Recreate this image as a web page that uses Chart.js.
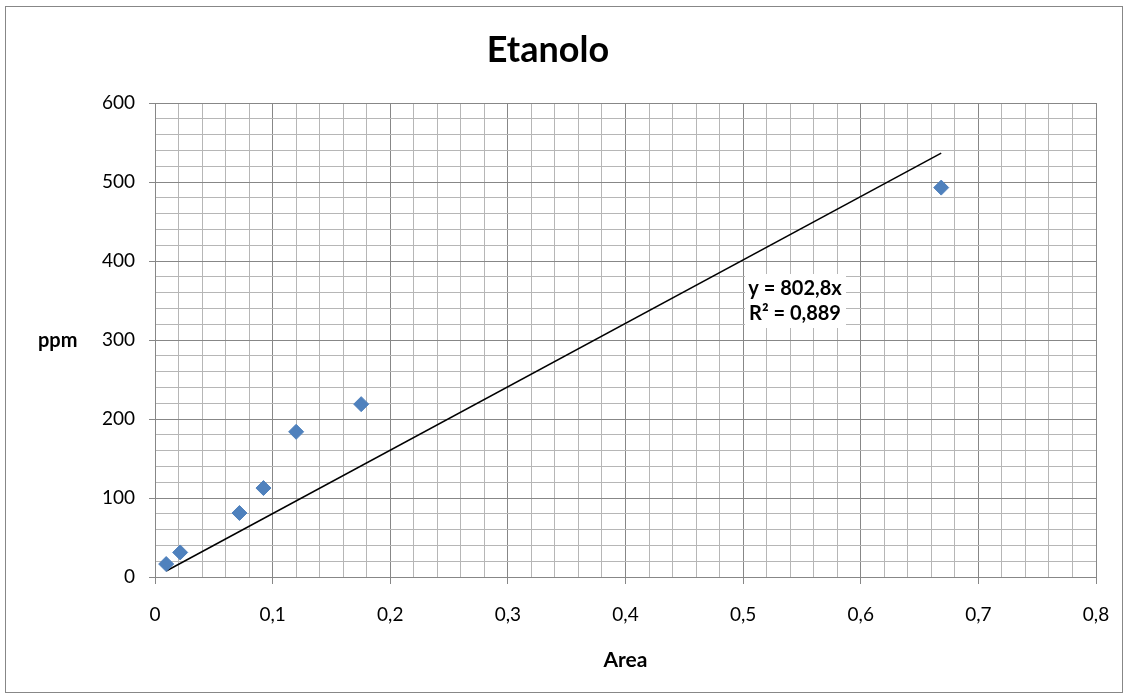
<!DOCTYPE html>
<html>
<head>
<meta charset="utf-8">
<script src="https://cdn.jsdelivr.net/npm/chart.js@4/dist/chart.umd.min.js"></script>
<style>
html, body { margin: 0; padding: 0; background: #fff; }
</style>
</head>
<body>
<canvas id="etanolo" width="1125" height="698"></canvas>
<script>
// dati
const areaValues = [0.0095, 0.0214, 0.0718, 0.0922, 0.120, 0.1753, 0.6684];
const ppmValues = [16.4, 31.1, 81, 112.6, 183.8, 218.8, 492.9];
const trendX = [0.0095, 0.6684];
const trendY = [7.6, 536.6];
const xTickLabels = ['0', '0,1', '0,2', '0,3', '0,4', '0,5', '0,6', '0,7', '0,8'];
const yTickLabels = ['0', '100', '200', '300', '400', '500', '600'];
const eqLines = ['y = 802,8x', 'R² = 0,889'];

const FONT = 'Lato, "Open Sans", sans-serif';
const MAJOR = '#878787';
const MINOR = '#b6b6b6';

function isMajor(v, step) {
    const r = v / step;
    return Math.abs(r - Math.round(r)) < 1e-6;
}

const extras = {
    id: 'extras',
    beforeDraw(chart) {
        const c = chart.ctx;
        c.save();
        c.fillStyle = '#fff';
        c.fillRect(0, 0, chart.width, chart.height);
        c.strokeStyle = MAJOR;
        c.lineWidth = 1;
        c.strokeRect(5.5, 6.5, 1117, 686);
        c.restore();
    },
    beforeDatasetsDraw(chart) {
        const c = chart.ctx;
        c.save();
        c.fillStyle = '#fff';
        c.fillRect(745, 274, 101, 54);
        c.fillStyle = '#000';
        c.font = 'bold 20px ' + FONT;
        c.textAlign = 'center';
        c.textBaseline = 'middle';
        c.fillText(eqLines[0], 795, 289);
        c.fillText(eqLines[1], 795, 314);
        // titolo asse y, orizzontale come in Excel
        c.textAlign = 'left';
        c.font = 'bold 20px ' + FONT;
        c.fillText('ppm', 38, 341);
        c.restore();
    }
};

const chart = new Chart('etanolo', {
    type: 'scatter',
    data: {
        datasets: [{
            label: 'ppm',
            data: areaValues.map((x, i) => ({ x: x, y: ppmValues[i] })),
            pointStyle: 'rectRot',
            pointRadius: 7.5,
            pointHoverRadius: 7.5,
            backgroundColor: '#4f81bd',
            borderColor: '#4f81bd',
            borderWidth: 1,
            order: 1
        }, {
            label: 'trend',
            type: 'line',
            data: trendX.map((x, i) => ({ x: x, y: trendY[i] })),
            borderColor: '#000',
            borderWidth: 1.5,
            pointRadius: 0,
            fill: false,
            order: 2
        }]
    },
    options: {
        responsive: false,
        animation: false,
        events: [],
        layout: { padding: { left: 0, right: 29, top: 0, bottom: 0 } },
        plugins: {
            legend: { display: false },
            tooltip: { enabled: false },
            title: {
                display: true,
                text: 'Etanolo',
                color: '#000',
                font: { family: FONT, size: 36, weight: 'bold', lineHeight: 1.2 },
                padding: { top: 29, bottom: 30.8 }
            }
        },
        scales: {
            x: {
                type: 'linear',
                min: 0,
                max: 0.8,
                afterFit(s) {
                    s.height = 121;
                    s.paddingLeft = 0;
                    s.paddingRight = 0;
                },
                ticks: {
                    stepSize: 0.02,
                    autoSkip: false,
                    maxRotation: 0,
                    minRotation: 0,
                    padding: 19,
                    color: '#000',
                    font: { family: FONT, size: 19 },
                    callback: v => isMajor(v, 0.1) ? xTickLabels[Math.round(v * 10)] : ''
                },
                grid: {
                    tickLength: 7,
                    color: c => isMajor(c.tick.value, 0.1) ? MAJOR : MINOR,
                    tickColor: c => isMajor(c.tick.value, 0.1) ? MAJOR : 'rgba(0,0,0,0)'
                },
                border: { color: MAJOR, width: 1 },
                title: {
                    display: true,
                    text: 'Area',
                    color: '#000',
                    font: { family: FONT, size: 21, weight: 'bold', lineHeight: 1.2 },
                    padding: { top: 0, bottom: 25.4 }
                }
            },
            y: {
                type: 'linear',
                min: 0,
                max: 600,
                afterFit(s) {
                    s.width = 155;
                    s.paddingTop = 0;
                    s.paddingBottom = 0;
                },
                ticks: {
                    stepSize: 20,
                    autoSkip: false,
                    padding: 14,
                    color: '#000',
                    font: { family: FONT, size: 19 },
                    callback: v => isMajor(v, 100) ? yTickLabels[Math.round(v / 100)] : ''
                },
                grid: {
                    tickLength: 6,
                    color: c => isMajor(c.tick.value, 100) ? MAJOR : MINOR,
                    tickColor: c => isMajor(c.tick.value, 100) ? MAJOR : 'rgba(0,0,0,0)'
                },
                border: { color: MAJOR, width: 1 }
            }
        }
    },
    plugins: [extras]
});
</script>
</body>
</html>
